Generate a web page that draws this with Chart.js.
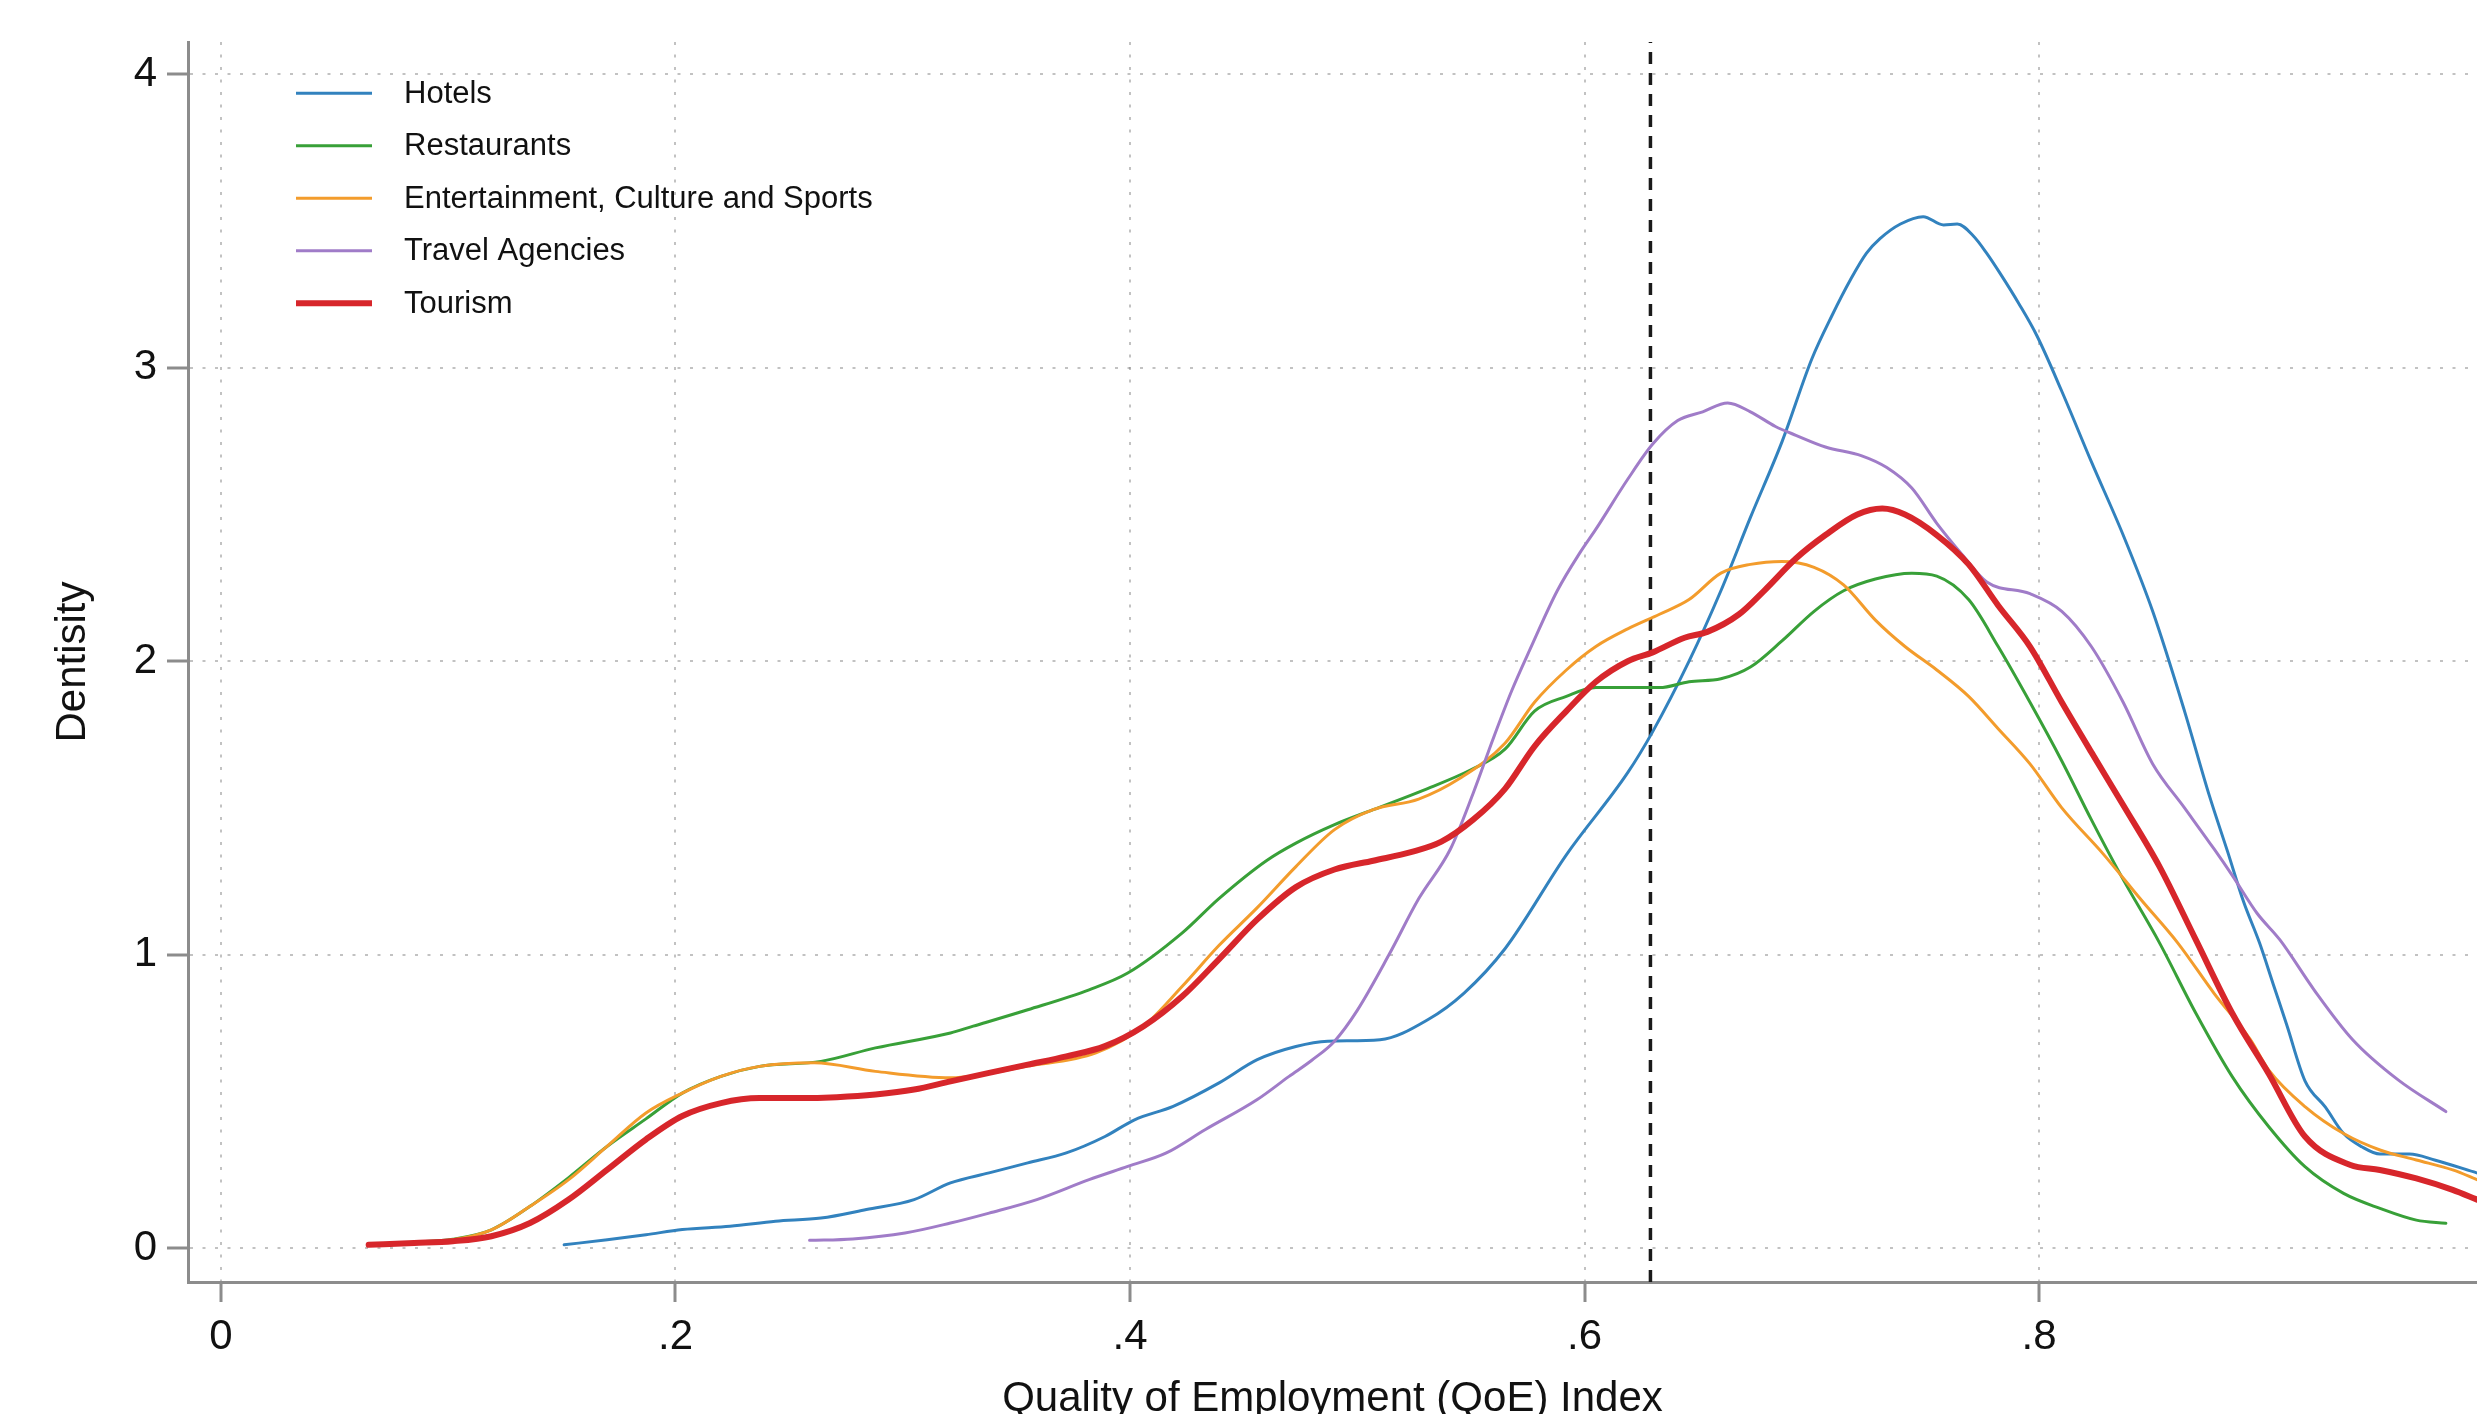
<!DOCTYPE html>
<html>
<head>
<meta charset="utf-8">
<script src="https://cdn.jsdelivr.net/npm/chart.js@4.4.1/dist/chart.umd.min.js"></script>
<style>
  html, body { margin: 0; padding: 0; background: #ffffff; }
  #wrap { width: 2477px; height: 1414px; position: relative; }
</style>
</head>
<body>
<div id="wrap"><canvas id="c" width="2477" height="1414"></canvas></div>
<script>
// ---------- DATA ----------
const seriesNames = ["Hotels", "Restaurants", "Entertainment, Culture and Sports", "Travel Agencies", "Tourism"];

const hotelsX = [0.151,0.170,0.187,0.203,0.224,0.244,0.264,0.284,0.305,0.321,0.338,0.355,0.372,0.389,0.402,0.419,0.439,0.456,0.473,0.487,0.510,0.531,0.547,0.565,0.592,0.619,0.630,0.646,0.660,0.673,0.687,0.700,0.709,0.717,0.724,0.730,0.739,0.749,0.758,0.764,0.771,0.777,0.783,0.791,0.799,0.810,0.823,0.837,0.850,0.864,0.875,0.883,0.890,0.897,0.903,0.909,0.917,0.926,0.934,0.942,0.950,0.963,0.974,0.993];
const hotelsY = [0.011,0.028,0.045,0.063,0.074,0.091,0.102,0.131,0.165,0.222,0.256,0.290,0.324,0.380,0.437,0.483,0.562,0.642,0.687,0.705,0.710,0.778,0.869,1.020,1.340,1.620,1.760,2.000,2.240,2.490,2.750,3.030,3.180,3.300,3.390,3.440,3.490,3.515,3.487,3.490,3.450,3.390,3.320,3.220,3.110,2.920,2.680,2.430,2.170,1.830,1.540,1.350,1.180,1.040,0.900,0.760,0.570,0.480,0.390,0.345,0.320,0.320,0.300,0.255];

const restaurantsX = [0.065,0.085,0.102,0.119,0.136,0.153,0.170,0.187,0.203,0.220,0.237,0.264,0.288,0.321,0.331,0.355,0.382,0.399,0.423,0.439,0.460,0.473,0.490,0.507,0.529,0.550,0.565,0.578,0.592,0.605,0.619,0.633,0.646,0.660,0.673,0.687,0.701,0.714,0.728,0.744,0.755,0.769,0.782,0.796,0.810,0.823,0.836,0.853,0.869,0.885,0.901,0.917,0.934,0.950,0.966,0.979];
const restaurantsY = [0.011,0.020,0.030,0.062,0.142,0.240,0.347,0.440,0.528,0.585,0.619,0.636,0.682,0.733,0.756,0.812,0.880,0.937,1.074,1.190,1.320,1.380,1.443,1.494,1.560,1.630,1.700,1.830,1.880,1.910,1.910,1.910,1.930,1.940,1.980,2.070,2.170,2.240,2.280,2.300,2.290,2.210,2.050,1.860,1.660,1.460,1.270,1.040,0.800,0.584,0.414,0.277,0.186,0.135,0.095,0.084];

const entertainmentX = [0.065,0.102,0.119,0.136,0.153,0.170,0.187,0.203,0.220,0.237,0.261,0.288,0.321,0.355,0.385,0.406,0.423,0.439,0.456,0.473,0.490,0.507,0.527,0.545,0.565,0.578,0.592,0.605,0.619,0.633,0.646,0.660,0.673,0.687,0.701,0.714,0.728,0.741,0.755,0.769,0.782,0.796,0.810,0.828,0.845,0.861,0.877,0.893,0.901,0.917,0.934,0.950,0.966,0.982,0.993];
const entertainmentY = [0.011,0.028,0.062,0.142,0.233,0.347,0.460,0.528,0.585,0.619,0.631,0.602,0.580,0.620,0.665,0.756,0.892,1.030,1.160,1.300,1.426,1.494,1.530,1.600,1.720,1.860,1.970,2.050,2.110,2.160,2.210,2.300,2.330,2.340,2.320,2.260,2.140,2.050,1.970,1.880,1.770,1.650,1.500,1.345,1.186,1.040,0.868,0.710,0.607,0.482,0.390,0.334,0.300,0.266,0.232];

const travelX = [0.259,0.278,0.301,0.321,0.338,0.359,0.382,0.399,0.416,0.433,0.456,0.470,0.480,0.490,0.500,0.514,0.527,0.541,0.551,0.560,0.568,0.576,0.588,0.598,0.605,0.619,0.630,0.641,0.652,0.663,0.673,0.684,0.693,0.706,0.722,0.733,0.744,0.755,0.766,0.777,0.796,0.810,0.823,0.837,0.850,0.864,0.877,0.885,0.896,0.906,0.921,0.938,0.958,0.979];
const travelY = [0.026,0.031,0.051,0.085,0.119,0.165,0.233,0.278,0.324,0.403,0.506,0.585,0.640,0.705,0.810,1.000,1.190,1.360,1.550,1.740,1.900,2.040,2.240,2.370,2.450,2.620,2.740,2.820,2.850,2.880,2.850,2.800,2.770,2.730,2.700,2.660,2.590,2.470,2.365,2.270,2.230,2.170,2.050,1.860,1.650,1.500,1.360,1.270,1.140,1.050,0.880,0.710,0.573,0.465];

const tourismX = [0.065,0.085,0.102,0.119,0.136,0.153,0.170,0.187,0.203,0.220,0.237,0.254,0.271,0.288,0.305,0.321,0.338,0.355,0.372,0.389,0.406,0.423,0.439,0.456,0.473,0.490,0.507,0.524,0.537,0.551,0.565,0.578,0.592,0.605,0.619,0.630,0.644,0.654,0.668,0.679,0.693,0.706,0.720,0.731,0.741,0.755,0.769,0.782,0.796,0.810,0.823,0.837,0.853,0.869,0.885,0.901,0.917,0.937,0.950,0.966,0.982,0.993];
const tourismY = [0.011,0.017,0.023,0.040,0.085,0.165,0.267,0.370,0.450,0.494,0.511,0.511,0.514,0.523,0.540,0.568,0.597,0.625,0.653,0.688,0.756,0.858,0.983,1.120,1.230,1.290,1.320,1.350,1.385,1.460,1.565,1.710,1.830,1.930,2.000,2.030,2.080,2.100,2.160,2.240,2.350,2.430,2.500,2.520,2.500,2.430,2.330,2.190,2.050,1.860,1.690,1.510,1.300,1.050,0.800,0.595,0.380,0.283,0.266,0.237,0.198,0.164];

const referenceLineX = [0.629];           // dashed vertical line
const xTickValues = [0, 0.2, 0.4, 0.6, 0.8];
const xTickLabels = ["0", ".2", ".4", ".6", ".8"];
const yTickValues = [0, 1, 2, 3, 4];
const yTickLabels = ["0", "1", "2", "3", "4"];
const xAxisTitle = "Quality of Employment (QoE) Index";
const yAxisTitle = "Dentisity";

// ---------- STYLE ----------
const X_MIN = -0.0145, X_MAX = 0.9927;
const Y_MIN = -0.1159, Y_MAX = 4.1104;
const seriesColors = ["#3282be", "#38a038", "#f39c2c", "#a07cc8", "#d7262b"];
const seriesWidths = [3, 3, 3, 3, 6];
const FONT = '"Liberation Sans", Arial, Helvetica, sans-serif';

function pts(xs, ys) { return xs.map((x, i) => ({ x: x, y: ys[i] })); }

const seriesX = [hotelsX, restaurantsX, entertainmentX, travelX, tourismX];
const seriesY = [hotelsY, restaurantsY, entertainmentY, travelY, tourismY];

const datasets = seriesNames.map((name, i) => ({
  label: name,
  data: pts(seriesX[i], seriesY[i]),
  borderColor: seriesColors[i],
  backgroundColor: seriesColors[i],
  borderWidth: seriesWidths[i],
  pointRadius: 0,
  pointHoverRadius: 0,
  fill: false,
  cubicInterpolationMode: 'monotone',
  borderCapStyle: 'round',
  borderJoinStyle: 'round',
  order: seriesNames.length - i
}));

datasets.push({
  label: "__ref",
  isRef: true,
  data: [{ x: referenceLineX[0], y: Y_MIN }, { x: referenceLineX[0], y: Y_MAX }],
  borderColor: "#1a1a1a",
  borderWidth: 3.5,
  borderDash: [12, 9],
  pointRadius: 0,
  fill: false,
  order: 20
});

// Legend drawn inside the plot area (top-left), like the original
const insideLegend = {
  id: 'insideLegend',
  afterDatasetsDraw(chart, args, opts) {
    const ctx = chart.ctx;
    ctx.save();
    ctx.font = opts.fontSize + 'px ' + FONT;
    ctx.textBaseline = 'middle';
    ctx.textAlign = 'left';
    let row = 0;
    chart.data.datasets.forEach((ds) => {
      if (ds.isRef) return;
      const y = opts.top + row * opts.rowGap;
      ctx.beginPath();
      ctx.strokeStyle = ds.borderColor;
      ctx.lineWidth = ds.borderWidth;
      ctx.lineCap = 'butt';
      ctx.moveTo(opts.lineX0, y);
      ctx.lineTo(opts.lineX1, y);
      ctx.stroke();
      ctx.fillStyle = '#111111';
      ctx.fillText(ds.label, opts.textX, y + 1);
      row++;
    });
    ctx.restore();
  }
};

const gridColor = 'rgba(120,120,120,0.45)';
const axisColor = '#8c8c8c';

new Chart(document.getElementById('c'), {
  type: 'line',
  data: { datasets: datasets },
  plugins: [insideLegend],
  options: {
    responsive: false,
    devicePixelRatio: 1,
    animation: false,
    events: [],
    layout: { padding: { left: 0, right: 0, top: 42, bottom: -20 } },
    plugins: {
      legend: { display: false },
      tooltip: { enabled: false },
      insideLegend: { top: 93.3, rowGap: 52.5, lineX0: 296, lineX1: 372, textX: 404, fontSize: 31 }
    },
    scales: {
      x: {
        type: 'linear',
        min: X_MIN,
        max: X_MAX,
        afterBuildTicks: (s) => { s.ticks = xTickValues.map(v => ({ value: v })); },
        afterFit: (s) => { s.height = 152; s.paddingLeft = 0; s.paddingRight = 0; },
        ticks: {
          autoSkip: false,
          maxRotation: 0,
          padding: 10,
          color: '#111111',
          font: { family: FONT, size: 42 },
          callback: (v, i) => xTickLabels[i]
        },
        grid: {
          color: gridColor,
          lineWidth: 2,
          tickLength: 20,
          tickWidth: 3,
          tickColor: axisColor,
          drawTicks: true
        },
        border: { display: true, color: axisColor, width: 3, dash: [3, 9.5] },
        title: {
          display: true,
          text: xAxisTitle,
          color: '#111111',
          font: { family: FONT, size: 42 },
          padding: { top: 0, bottom: 9 }
        }
      },
      y: {
        type: 'linear',
        min: Y_MIN,
        max: Y_MAX,
        afterBuildTicks: (s) => { s.ticks = yTickValues.map(v => ({ value: v })); },
        afterFit: (s) => { s.width = 188; },
        ticks: {
          padding: 10,
          color: '#111111',
          font: { family: FONT, size: 42 },
          callback: (v, i) => yTickLabels[i]
        },
        grid: {
          color: gridColor,
          lineWidth: 2,
          tickLength: 21,
          tickWidth: 3,
          tickColor: axisColor,
          drawTicks: true
        },
        border: { display: true, color: axisColor, width: 3, dash: [3, 9.5] },
        title: {
          display: true,
          text: yAxisTitle,
          color: '#111111',
          font: { family: FONT, size: 42 },
          padding: { top: 48, bottom: 0 }
        }
      }
    }
  }
});
</script>
</body>
</html>
